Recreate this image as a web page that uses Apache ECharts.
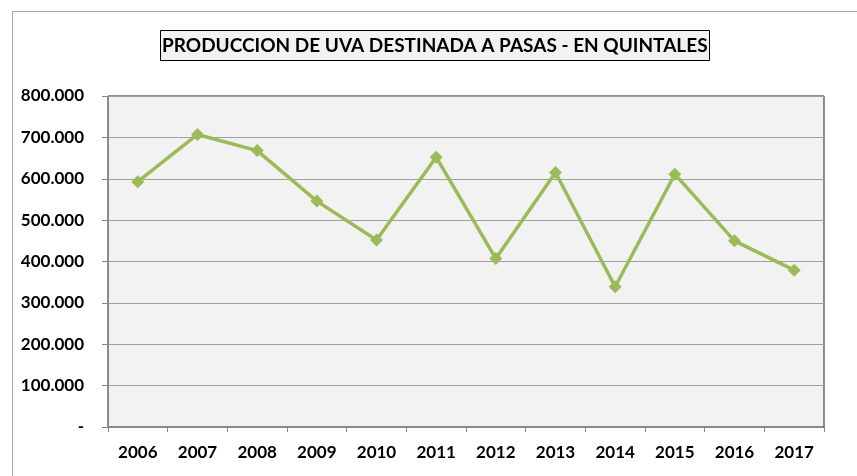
<!DOCTYPE html>
<html>
<head>
<meta charset="utf-8">
<script src="https://cdn.jsdelivr.net/npm/echarts@6/dist/echarts.min.js"></script>
<style>
html,body{margin:0;padding:0;background:#fff;}
#c{width:857px;height:476px;}
</style>
</head>
<body>
<div id="c"></div>
<script>
var titleText = 'PRODUCCION DE UVA DESTINADA A PASAS - EN QUINTALES';
var years = ['2006','2007','2008','2009','2010','2011','2012','2013','2014','2015','2016','2017'];
var production = [593000, 707000, 668000, 546000, 452000, 652000, 407000, 615000, 339000, 611000, 450000, 379000];
var yMin = 0, yMax = 800000, yStep = 100000;

var FONT = 'Lato, "Open Sans", sans-serif';
function fmt(v){
  if (v === 0) return '-';
  return String(v).replace(/\B(?=(\d{3})+(?!\d))/g, '.');
}
var chart = echarts.init(document.getElementById('c'), null, {renderer:'canvas'});
chart.setOption({
  backgroundColor: '#ffffff',
  animation: false,
  graphic: [{
    type: 'rect', left: 10, top: 9, z: -10,
    shape: {width: 900, height: 500},
    style: {fill: 'none', stroke: '#a6a6a6', lineWidth: 1}
  }],
  title: {
    text: titleText,
    left: 160, top: 30,
    padding: [6, 2, 6, 2],
    backgroundColor: '#f2f2f2',
    borderColor: '#000000',
    borderWidth: 1,
    textStyle: {fontFamily: FONT, fontWeight: 'bold', fontSize: 19, color: '#000', lineHeight: 19}
  },
  grid: {
    left: 108, right: 33, top: 96, bottom: 49,
    show: true, backgroundColor: '#f2f2f2', borderColor: '#222222', borderWidth: 1
  },
  xAxis: {
    type: 'category', data: years, boundaryGap: true,
    axisLine: {lineStyle: {color: '#868686', width: 1}},
    axisTick: {show: true, length: 5, lineStyle: {color: '#868686'}},
    axisLabel: {fontFamily: FONT, fontWeight: 'bold', fontSize: 17, color: '#000', margin: 17}
  },
  yAxis: {
    type: 'value', min: yMin, max: yMax, interval: yStep,
    axisLine: {show: true, lineStyle: {color: '#868686', width: 1}},
    axisTick: {show: true, length: 6, lineStyle: {color: '#868686'}},
    splitLine: {lineStyle: {color: '#a0a0a0', width: 1}},
    axisLabel: {fontFamily: FONT, fontWeight: 'bold', fontSize: 17, color: '#000', margin: 24, formatter: fmt}
  },
  series: [{
    type: 'line', data: production,
    symbol: 'diamond', symbolSize: 13,
    lineStyle: {color: '#9bbb59', width: 3.5},
    itemStyle: {color: '#9bbb59'}
  }]
});
</script>
</body>
</html>
